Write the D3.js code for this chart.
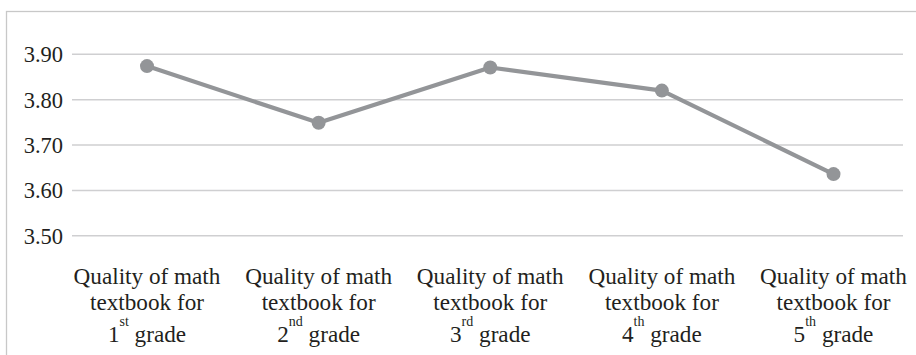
<!DOCTYPE html>
<html>
<head>
<meta charset="utf-8">
<script src="https://cdn.jsdelivr.net/npm/d3@7"></script>
</head>
<body style="margin:0">
<svg id="chart" width="916" height="355"></svg>
<script>
// Mean rating for each grade's math textbook
const grades = ["1", "2", "3", "4", "5"];
const ordinalSuffix = ["st", "nd", "rd", "th", "th"];
const labelLine1 = "Quality of math";
const labelLine2 = "textbook for";
const values = [3.874, 3.749, 3.871, 3.820, 3.636];
const yTicks = [3.50, 3.60, 3.70, 3.80, 3.90];

const fontName = "Liberation Serif";
const textColor = "#231f20";

const svg = d3.select("#chart");

const x = d3.scalePoint().domain(grades).range([147, 833.5]);
const y = d3.scaleLinear().domain([3.5, 3.9]).range([235.8, 54.3]);

// outer frame (left and top edges visible)
svg.append("rect")
  .attr("x", 6.5).attr("y", 11.5)
  .attr("width", 930).attr("height", 400)
  .attr("fill", "none").attr("stroke", "#c8c8c8").attr("stroke-width", 1.3);

// horizontal gridlines
svg.append("g").selectAll("line").data(yTicks).join("line")
  .attr("x1", 72).attr("x2", 903)
  .attr("y1", d => y(d)).attr("y2", d => y(d))
  .attr("stroke", "#cfcfd1").attr("stroke-width", 1.5);

// y tick labels
svg.selectAll("text.ytick").data(yTicks).join("text")
  .attr("class", "ytick")
  .attr("x", 63).attr("y", d => y(d) + 8)
  .attr("text-anchor", "end")
  .attr("font-size", 22.5)
  .attr("fill", textColor)
  .style("font-family", d => `"${fontName}"`)
  .text(d => d3.format(".2f")(d));

// data line
const line = d3.line().x((d, i) => x(grades[i])).y(d => y(d));
svg.append("path").datum(values)
  .attr("d", line)
  .attr("fill", "none").attr("stroke", "#939598")
  .attr("stroke-width", 4.2).attr("stroke-linejoin", "round");

svg.append("g").selectAll("circle").data(values).join("circle")
  .attr("cx", (d, i) => x(grades[i])).attr("cy", d => y(d))
  .attr("r", 7).attr("fill", "#939598");

// category labels, three lines each with an ordinal superscript
svg.selectAll("text.l1").data(grades).join("text")
  .attr("class", "l1")
  .attr("x", d => x(d)).attr("y", 284).attr("text-anchor", "middle")
  .attr("font-size", 23.2).attr("fill", textColor)
  .style("font-family", d => `"${fontName}"`)
  .text(labelLine1);
svg.selectAll("text.l2").data(grades).join("text")
  .attr("class", "l2")
  .attr("x", d => x(d)).attr("y", 310).attr("text-anchor", "middle")
  .attr("font-size", 23.2).attr("fill", textColor)
  .style("font-family", d => `"${fontName}"`)
  .text(labelLine2);

const l3 = svg.selectAll("text.l3").data(grades).join("text")
  .attr("class", "l3")
  .attr("x", d => x(d)).attr("y", 342).attr("text-anchor", "middle")
  .attr("font-size", 23.2).attr("fill", textColor)
  .style("font-family", d => `"${fontName}"`);
l3.append("tspan").text(d => d);
l3.append("tspan").attr("font-size", 14).attr("dy", -16)
  .text((d, i) => ordinalSuffix[i]);
l3.append("tspan").attr("dy", 16).text(" grade");
</script>
</body>
</html>
